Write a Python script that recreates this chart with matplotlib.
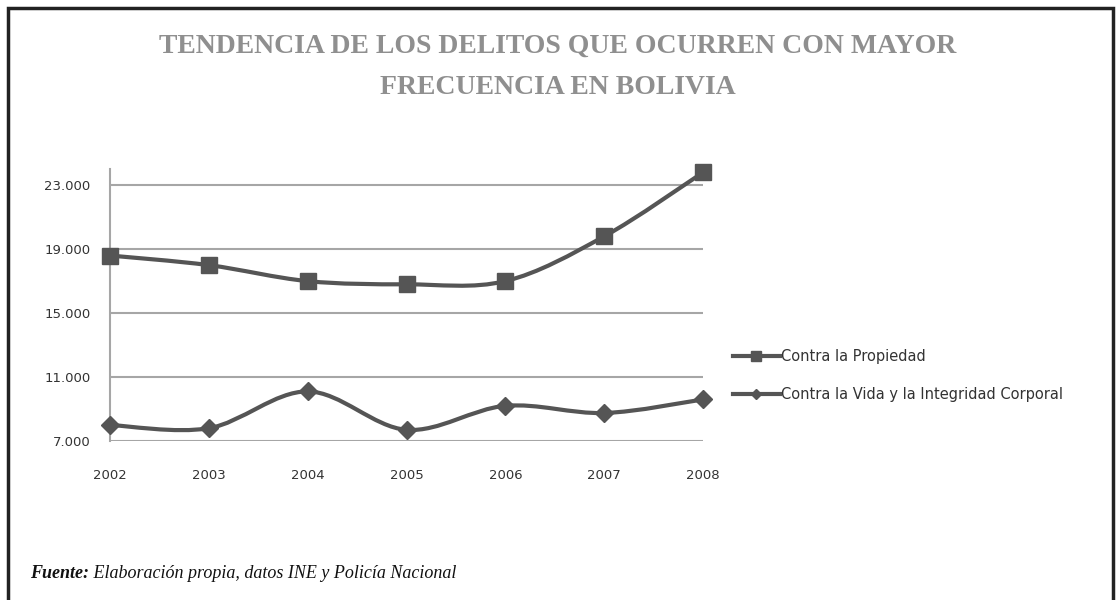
import numpy as np
import matplotlib.pyplot as plt
from matplotlib.path import Path
from matplotlib.patches import PathPatch, Rectangle
from matplotlib.lines import Line2D
from matplotlib.ticker import FuncFormatter

years = [2002, 2003, 2004, 2005, 2006, 2007, 2008]
propiedad = [18600, 18000, 17000, 16800, 17000, 19800, 23800]
vida = [8000, 7800, 10100, 7700, 9200, 8750, 9600]
yticks = [7000, 11000, 15000, 19000, 23000]

line_col = '#555555'
grid_col = '#a6a6a6'


def smooth_path(x, y, t=0.5):
    # curva tipo Excel: Catmull-Rom pasada a Bezier cubicas
    x = np.asarray(x, float)
    y = np.asarray(y, float)
    verts = [(x[0], y[0])]
    codes = [Path.MOVETO]
    n = len(x)
    for i in range(n - 1):
        i0 = max(i - 1, 0)
        i3 = min(i + 2, n - 1)
        c1 = (x[i] + (x[i + 1] - x[i0]) * t / 3, y[i] + (y[i + 1] - y[i0]) * t / 3)
        c2 = (x[i + 1] - (x[i3] - x[i]) * t / 3, y[i + 1] - (y[i3] - y[i]) * t / 3)
        verts += [c1, c2, (x[i + 1], y[i + 1])]
        codes += [Path.CURVE4] * 3
    return Path(verts, codes)


fig = plt.figure(figsize=(11.16, 6), dpi=100)

# marco
fig.patches.append(Rectangle((0.007, -0.01), 0.99, 0.997, transform=fig.transFigure,
                             fill=False, edgecolor='#222222', linewidth=2.5))

fig.text(0.5, 0.923, "TENDENCIA DE LOS DELITOS QUE OCURREN CON MAYOR",
         ha='center', va='center', family='Liberation Serif', fontweight='bold',
         fontsize=20, color='#8f8f8f')
fig.text(0.5, 0.855, "FRECUENCIA EN BOLIVIA",
         ha='center', va='center', family='Liberation Serif', fontweight='bold',
         fontsize=20, color='#8f8f8f')

ax = fig.add_axes([0.0986, 0.265, 0.5314, 0.453])
for yv in yticks:
    ax.axhline(yv, color=grid_col, linewidth=1.5, zorder=1)

ax.add_patch(PathPatch(smooth_path(years, propiedad), facecolor='none',
                       edgecolor=line_col, linewidth=3, zorder=3))
ax.add_patch(PathPatch(smooth_path(years, vida), facecolor='none',
                       edgecolor=line_col, linewidth=3, zorder=3))
ax.plot(years, propiedad, linestyle='none', marker='s', markersize=12,
        color=line_col, zorder=4, clip_on=False)
ax.plot(years, vida, linestyle='none', marker='D', markersize=9,
        color=line_col, zorder=4, clip_on=False)

ax.set_xlim(2002, 2008)
ax.set_ylim(7000, 24000)
ax.set_xticks(years)
ax.set_yticks(yticks)
ax.yaxis.set_major_formatter(FuncFormatter(lambda v, p: f"{int(v):,}".replace(',', '.')))
for s in ['top', 'right', 'bottom']:
    ax.spines[s].set_visible(False)
ax.spines['left'].set_color(grid_col)
ax.spines['left'].set_linewidth(1.5)
ax.tick_params(length=0, labelsize=9.5, colors='#333333')
ax.tick_params(axis='x', pad=20)
ax.tick_params(axis='y', pad=14)

handles = [Line2D([], [], color=line_col, linewidth=3, marker='s', markersize=7),
           Line2D([], [], color=line_col, linewidth=3, marker='D', markersize=5)]
fig.legend(handles, ["Contra la Propiedad", "Contra la Vida y la Integridad Corporal"],
           loc='center left', bbox_to_anchor=(0.645, 0.374), frameon=False,
           fontsize=10.5, handlelength=3.2, handletextpad=0.1, labelspacing=1.6,
           labelcolor='#333333')

t1 = fig.text(0.027, 0.037, "Fuente:", family='Liberation Serif', style='italic',
              fontweight='bold', fontsize=13, color='#111111', va='baseline')
ax.annotate(" Elaboración propia, datos INE y Policía Nacional", xy=(1, 0),
            xycoords=t1, va='bottom', family='Liberation Serif', style='italic',
            fontsize=13, color='#111111', annotation_clip=False)

fig.savefig('out.png', dpi=100)
